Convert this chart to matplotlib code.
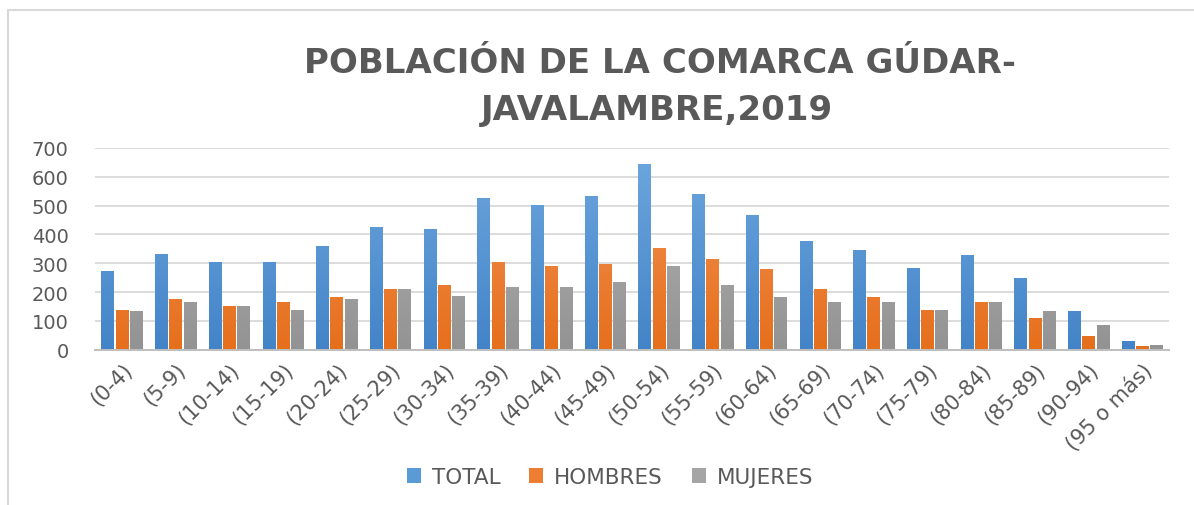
import numpy as np
import matplotlib
matplotlib.use("Agg")
import matplotlib.pyplot as plt
from matplotlib.colors import LinearSegmentedColormap
from matplotlib.patches import Patch
from matplotlib.lines import Line2D

categories = ["(0-4)", "(5-9)", "(10-14)", "(15-19)", "(20-24)", "(25-29)", "(30-34)",
              "(35-39)", "(40-44)", "(45-49)", "(50-54)", "(55-59)", "(60-64)", "(65-69)",
              "(70-74)", "(75-79)", "(80-84)", "(85-89)", "(90-94)", "(95 o más)"]
total = [272, 333, 303, 303, 359, 425, 419, 528, 502, 534, 644, 540, 467, 376,
         346, 285, 328, 249, 133, 30]
hombres = [139, 176, 152, 165, 182, 212, 225, 303, 292, 298, 352, 316, 279, 212,
           182, 139, 165, 109, 49, 12]
mujeres = [133, 165, 152, 139, 176, 212, 188, 219, 219, 236, 292, 225, 182, 165,
           165, 139, 165, 133, 85, 17]
series_names = ["TOTAL", "HOMBRES", "MUJERES"]
yticks = [0, 100, 200, 300, 400, 500, 600, 700]
title1 = "POBLACIÓN DE LA COMARCA GÚDAR-"
title2 = "JAVALAMBRE,2019"

flat_colors = ["#5b9bd5", "#ed7d31", "#a5a5a5"]
grad = [("#4384c8", "#6ea7de"), ("#e66f1c", "#f3955a"), ("#939393", "#b6b6b6")]
text_col = "#595959"

fig = plt.figure(figsize=(11.94, 5.06), dpi=100)
ax = fig.add_axes([95 / 1194, 155.3 / 506, (1169 - 95) / 1194, (350.7 - 149) / 506])

x = np.arange(len(categories))
w = 0.23
offs = [-0.265, 0.0, 0.265]
data = [total, hombres, mujeres]

for k, (vals, off) in enumerate(zip(data, offs)):
    bars = ax.bar(x + off, vals, width=w, color=flat_colors[k], zorder=2, linewidth=0)
    cmap = LinearSegmentedColormap.from_list("g%d" % k, [grad[k][0], grad[k][1]])
    g = np.linspace(0, 1, 64).reshape(-1, 1)
    for b in bars:
        bx = b.get_x()
        bw = b.get_width()
        im = ax.imshow(g, cmap=cmap, extent=(bx, bx + bw, 0, 700), origin="lower",
                       aspect="auto", zorder=3, interpolation="bilinear")
        im.set_clip_path(b)

ax.set_xlim(-0.5, len(categories) - 0.5)
ax.set_ylim(0, 700)
ax.set_yticks(yticks)
ax.set_yticklabels([str(v) for v in yticks], fontsize=14, color=text_col)
ax.set_xticks(x)
ax.set_xticklabels(categories, rotation=45, ha="right", rotation_mode="anchor",
                   fontsize=15, color=text_col)
ax.tick_params(axis="both", length=0)
ax.tick_params(axis="y", pad=19)
ax.tick_params(axis="x", pad=7)
ax.grid(axis="y", color="#d9d9d9", linewidth=1.3, zorder=0)
ax.set_axisbelow(True)
for s in ["top", "right", "left"]:
    ax.spines[s].set_visible(False)
ax.spines["bottom"].set_color("#bfbfbf")
ax.spines["bottom"].set_linewidth(1.4)
ax.spines["bottom"].set_zorder(4)

fig.text(660 / 1194, 1 - 73.3 / 506, title1, ha="center", va="baseline",
         fontsize=24.5, fontweight="bold", color=text_col, family="DejaVu Sans")
fig.text(657 / 1194, 1 - 120 / 506, title2, ha="center", va="baseline",
         fontsize=24.5, fontweight="bold", color=text_col, family="DejaVu Sans")

# chart frame
fig.add_artist(Line2D([8 / 1194, 1.0], [1 - 11 / 506, 1 - 11 / 506],
                      transform=fig.transFigure, color="#d9d9d9", linewidth=1.5))
fig.add_artist(Line2D([8 / 1194, 8 / 1194], [0, 1 - 11 / 506],
                      transform=fig.transFigure, color="#d9d9d9", linewidth=1.5))

handles = [Patch(facecolor=c, edgecolor="none") for c in flat_colors]
fig.legend(handles, series_names, loc="center", bbox_to_anchor=(610 / 1194, 1 - 478 / 506),
           ncol=3, frameon=False, fontsize=15.5, handlelength=0.65, handleheight=0.65,
           handletextpad=0.5, columnspacing=1.35, labelcolor=text_col)

fig.savefig("out.png", dpi=100)
